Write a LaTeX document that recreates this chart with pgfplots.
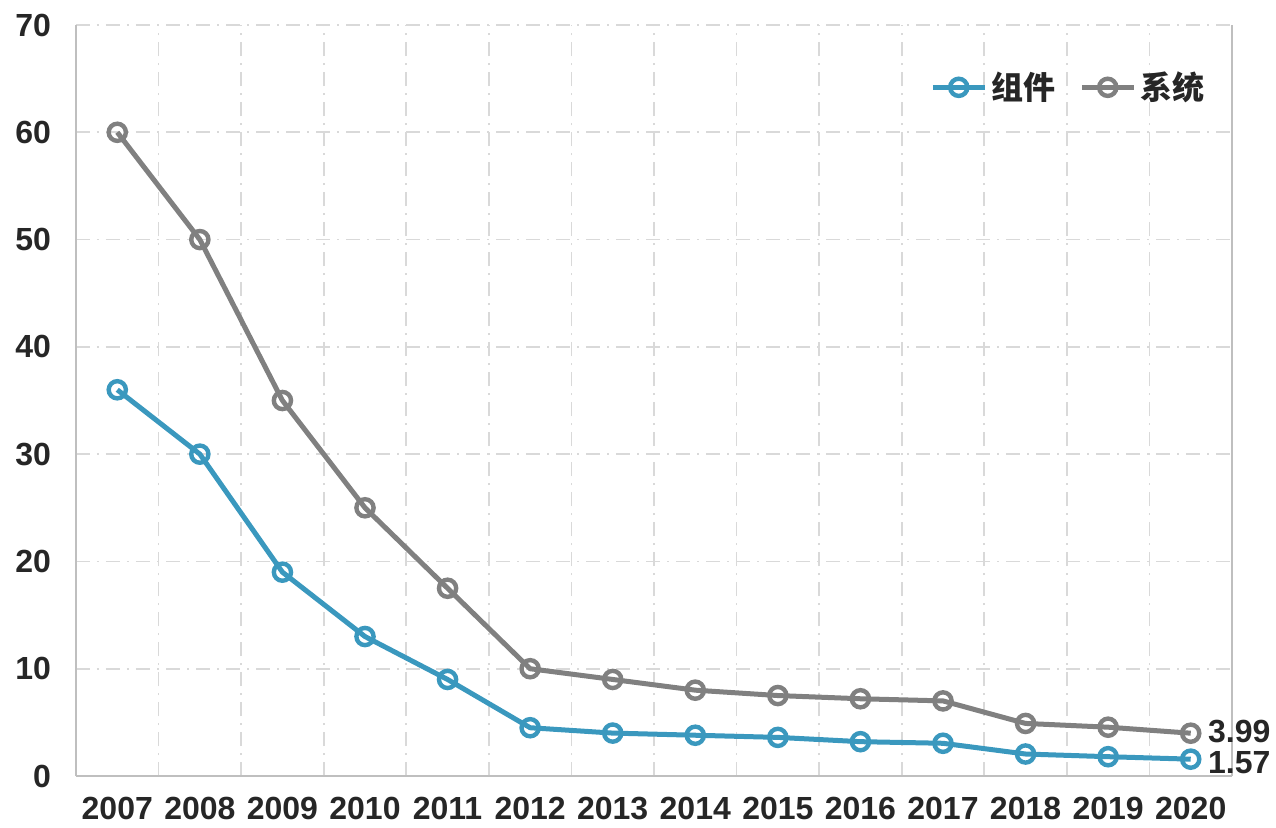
\documentclass[border=0pt]{standalone}
\usepackage{pgfplots}
\pgfplotsset{compat=1.18}
\usepackage{fontspec}
\setmainfont{Liberation Sans}
\newfontfamily\cjk{Noto Sans CJK SC}

\definecolor{cblue}{HTML}{3A98BE}
\definecolor{cgray}{HTML}{808080}
\definecolor{gridc}{HTML}{D9D9D9}
\definecolor{axisc}{HTML}{BFBFBF}

\begin{document}
\begin{tikzpicture}
\begin{axis}[
    name=ax,
    scale only axis,
    width=578pt, height=375.5pt,
    xmin=-0.5, xmax=13.5,
    ymin=0, ymax=70,
    ytick={0,10,...,70},
    xtick={0,...,13},
    xticklabels={2007,2008,2009,2010,2011,2012,2013,2014,2015,2016,2017,2018,2019,2020},
    minor xtick={0.5,1.5,...,12.5},
    xminorgrids=true, ymajorgrids=true,
    minor grid style={gridc, line width=0.9pt, dash pattern=on 7pt off 3.5pt on 1pt off 3.5pt},
    major grid style={gridc, line width=0.9pt, dash pattern=on 7pt off 3.5pt on 1pt off 3.5pt},
    axis x line*=bottom, axis y line*=left,
    axis line style={axisc, line width=0.9pt, -},
    major tick length=0pt, minor tick length=0pt,
    /pgf/number format/assume math mode=true,
    tick label style={font=\fontsize{16}{16}\selectfont\bfseries, text=black!85},
    yticklabel style={xshift=-9pt},
    xticklabel style={yshift=-7pt},
    clip=false,
    legend columns=-1,
    legend style={at={(0.985,0.917)}, anchor=east, draw=none, fill=none,
        font=\fontsize{16}{16}\selectfont\cjk\bfseries, text=black!85,
        /tikz/every even column/.append style={column sep=10pt}},
    legend image code/.code={
        \draw[#1, mark repeat=2, mark phase=2] plot coordinates {(0pt,0pt) (13pt,0pt) (26pt,0pt)};
    },
]
\addplot[cblue, line width=2.5pt, mark=o, mark size=4.3pt,
    mark options={fill=white, line width=2.2pt}] coordinates {
    (0,36) (1,30) (2,19) (3,13) (4,9) (5,4.5) (6,4.0) (7,3.8)
    (8,3.6) (9,3.2) (10,3.05) (11,2.05) (12,1.8) (13,1.57)
};
\addplot[cgray, line width=2.5pt, mark=o, mark size=4.3pt,
    mark options={fill=white, line width=2.2pt}] coordinates {
    (0,60) (1,50) (2,35) (3,25) (4,17.5) (5,10) (6,9) (7,8)
    (8,7.5) (9,7.2) (10,7.0) (11,4.9) (12,4.55) (13,3.99)
};
\legend{组件,系统}
\draw[axisc, line width=0.9pt] (rel axis cs:1,0) -- (rel axis cs:1,1);
\node[anchor=west, inner sep=0pt, xshift=8.5pt, yshift=1.2pt, text height=11.5pt, text depth=0pt, font=\fontsize{16}{16}\selectfont\bfseries, text=black!85] at (axis cs:13,3.99) {3.99};
\node[anchor=west, inner sep=0pt, xshift=8.5pt, yshift=-1.2pt, text height=11.5pt, text depth=0pt, font=\fontsize{16}{16}\selectfont\bfseries, text=black!85] at (axis cs:13,1.57) {1.57};
\end{axis}
\pgfresetboundingbox
\path (ax.south west) ++(-38pt,-25.5pt) rectangle ++(638pt,413.5pt);
\end{tikzpicture}
\end{document}
